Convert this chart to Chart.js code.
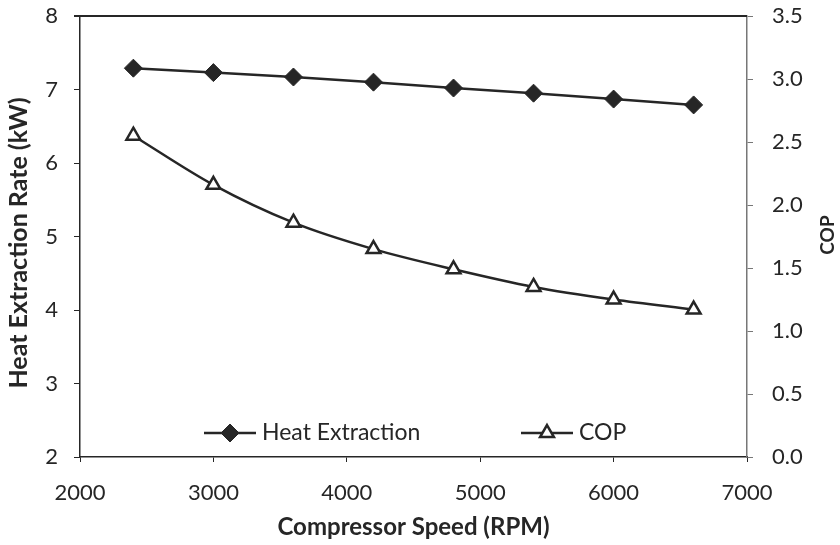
<!DOCTYPE html>
<html>
<head>
<meta charset="utf-8">
<script src="https://cdn.jsdelivr.net/npm/chart.js@4.4.1/dist/chart.umd.min.js"></script>
<style>
  html, body { margin: 0; padding: 0; background: #fff; }
</style>
</head>
<body>
<canvas id="chart" width="840" height="545"></canvas>
<script>
// data
const speeds = [2400, 3000, 3600, 4200, 4800, 5400, 6000, 6600];
const heatExtraction = [7.29, 7.23, 7.17, 7.10, 7.02, 6.95, 6.87, 6.79];
const cop = [2.55, 2.16, 1.86, 1.65, 1.49, 1.35, 1.25, 1.17];
const seriesNames = ['Heat Extraction', 'COP'];
const xTitle = 'Compressor Speed (RPM)';
const yTitle = 'Heat Extraction Rate (kW)';
const y2Title = 'COP';

const ink = '#262626';
const tickFont = { family: 'Lato', size: 22 };
const titleFont = { family: 'Lato', size: 24, weight: 'bold' };

// titles, top border and in-plot legend
const extras = {
  id: 'extras',
  afterDraw(chart) {
    const ctx = chart.ctx;
    const a = chart.chartArea;
    ctx.save();
    ctx.strokeStyle = ink;
    ctx.lineWidth = 2;
    ctx.beginPath();
    ctx.moveTo(a.left - 6, a.top);
    ctx.lineTo(a.right, a.top);
    ctx.stroke();

    ctx.fillStyle = ink;
    ctx.textAlign = 'center';
    ctx.textBaseline = 'middle';
    ctx.save();
    ctx.font = 'bold 25px Lato';
    ctx.translate(19, 243);
    ctx.rotate(-Math.PI / 2);
    ctx.fillText(yTitle, 0, 0);
    ctx.restore();
    ctx.save();
    ctx.font = 'bold 19px Lato';
    ctx.translate(828, 235);
    ctx.rotate(-Math.PI / 2);
    ctx.fillText(y2Title, 0, 0);
    ctx.restore();

    // legend
    const legendY = 433;
    const starts = [204, 521];
    ctx.font = '23px Lato';
    ctx.textAlign = 'left';
    chart.data.datasets.forEach((ds, i) => {
      const x0 = starts[i];
      ctx.strokeStyle = ink;
      ctx.lineWidth = 2.5;
      ctx.beginPath();
      ctx.moveTo(x0, legendY);
      ctx.lineTo(x0 + 52, legendY);
      ctx.stroke();
      ctx.fillStyle = ds.pointBackgroundColor;
      ctx.strokeStyle = ink;
      ctx.lineWidth = ds.pointBorderWidth;
      Chart.helpers.drawPoint(ctx, {
        pointStyle: ds.pointStyle, rotation: 0,
        radius: ds.pointRadius, borderWidth: ds.pointBorderWidth
      }, x0 + 26, legendY);
      ctx.fillStyle = ink;
      ctx.fillText(ds.label, x0 + 58, legendY);
    });
    ctx.restore();
  }
};

new Chart(document.getElementById('chart'), {
  type: 'line',
  data: {
    datasets: [{
      label: seriesNames[0],
      data: speeds.map((s, i) => ({ x: s, y: heatExtraction[i] })),
      yAxisID: 'y',
      borderColor: ink,
      borderWidth: 2.5,
      pointStyle: 'rectRot',
      pointRadius: 9,
      pointBackgroundColor: ink,
      pointBorderColor: ink,
      pointBorderWidth: 1,
      tension: 0
    }, {
      label: seriesNames[1],
      data: speeds.map((s, i) => ({ x: s, y: cop[i] })),
      yAxisID: 'y2',
      borderColor: ink,
      borderWidth: 2.5,
      pointStyle: 'triangle',
      pointRadius: 8,
      pointBackgroundColor: '#fff',
      pointBorderColor: ink,
      pointBorderWidth: 2.5,
      cubicInterpolationMode: 'monotone'
    }]
  },
  options: {
    responsive: false,
    animation: false,
    layout: { padding: { top: 16, left: 0, right: 0, bottom: 0 } },
    plugins: { legend: { display: false }, tooltip: { enabled: false } },
    scales: {
      x: {
        type: 'linear',
        min: 2000, max: 7000,
        afterFit(s) { s.height = 88; s.paddingLeft = 0; s.paddingRight = 0; },
        ticks: { stepSize: 1000, color: ink, font: tickFont, padding: 18, maxRotation: 0,
                 callback: v => String(v) },
        grid: { drawOnChartArea: false, tickLength: 5, color: ink },
        border: { color: ink, width: 1.5 },
        title: { display: true, text: xTitle, color: ink, font: titleFont, padding: { top: 0, bottom: 3 } }
      },
      y: {
        position: 'left',
        min: 2, max: 8,
        afterFit(s) { s.width = 80; s.paddingTop = 0; s.paddingBottom = 0; },
        ticks: { stepSize: 1, color: ink, font: tickFont, padding: 16 },
        grid: { drawOnChartArea: false, tickLength: 6, color: ink },
        border: { color: ink, width: 1.5 }
      },
      y2: {
        position: 'right',
        min: 0, max: 3.5,
        afterFit(s) { s.width = 93; s.paddingTop = 0; s.paddingBottom = 0; },
        ticks: { stepSize: 0.5, color: ink, font: tickFont, padding: 19,
                 callback: v => v.toFixed(1) },
        grid: { drawOnChartArea: false, tickLength: 6, color: '#777' },
        border: { color: '#777', width: 1.5 }
      }
    }
  },
  plugins: [extras]
});
</script>
</body>
</html>
